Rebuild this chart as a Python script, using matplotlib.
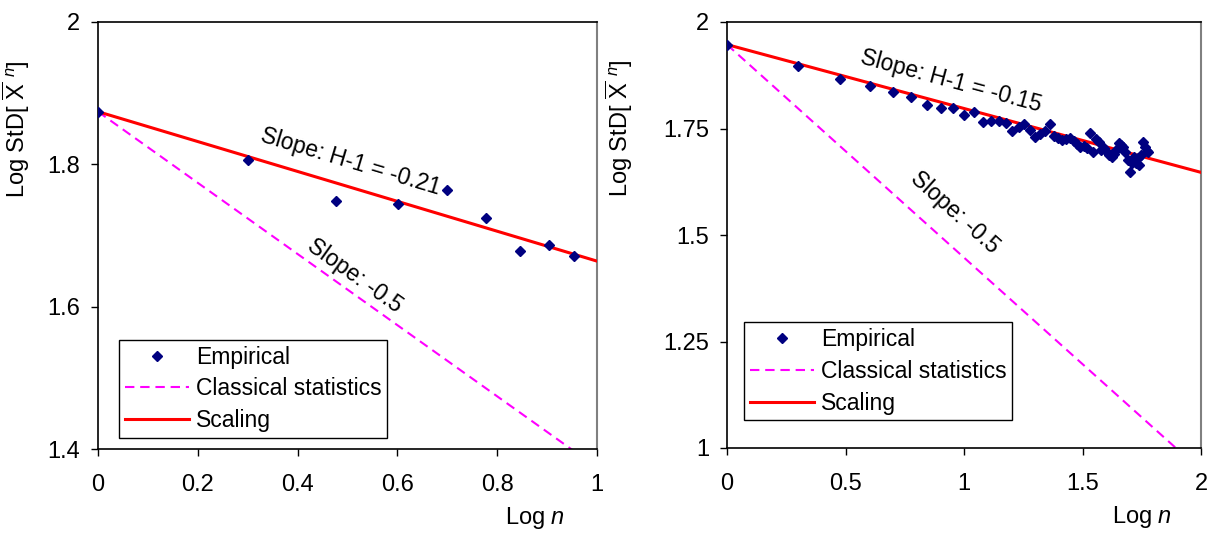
import numpy as np
import matplotlib
matplotlib.use("Agg")
import matplotlib.pyplot as plt
from matplotlib.ticker import FormatStrFormatter

plt.rcParams['font.family'] = ['Liberation Sans', 'DejaVu Sans']
plt.rcParams['mathtext.fontset'] = 'custom'
plt.rcParams['mathtext.rm'] = 'Liberation Sans'
plt.rcParams['mathtext.it'] = 'Liberation Sans:italic'
plt.rcParams['font.size'] = 17

# left panel: n = 1..9
n_left = np.arange(1, 10)
emp_left = [1.874, 1.806, 1.749, 1.744, 1.764, 1.724, 1.678, 1.687, 1.671]
slope_left = -0.21

# right panel: n = 1..60
n_right = np.arange(1, 61)
emp_right = [1.947, 1.897, 1.867, 1.849, 1.836, 1.824, 1.804, 1.797, 1.797, 1.782,
             1.788, 1.766, 1.768, 1.768, 1.763, 1.745, 1.754, 1.761, 1.747, 1.731,
             1.738, 1.745, 1.761, 1.733, 1.728, 1.723, 1.726, 1.728, 1.721, 1.714,
             1.707, 1.709, 1.705, 1.740, 1.695, 1.726, 1.719, 1.700, 1.705, 1.695,
             1.688, 1.684, 1.691, 1.700, 1.716, 1.712, 1.707, 1.695, 1.677, 1.648,
             1.669, 1.684, 1.669, 1.681, 1.665, 1.688, 1.719, 1.707, 1.698, 1.695]
slope_right = -0.15
slope_classic = -0.5

RED = '#FF0000'
MAG = '#FF00FF'
NAVY = '#000080'


def panel(ax, n, emp, slope, xlim, ylim, xticks, yticks,
          txt1, txt2, leg_box, ylab_x):
    x = np.log10(n)
    y0 = emp[0]
    xl = np.array([0.0, xlim[1]])
    ax.plot(x, emp, 'D', color=NAVY, ms=5.3, label='Empirical', zorder=4)
    ax.plot(xl, y0 + slope_classic * xl, color=MAG, lw=1.5, dashes=(4.5, 2.8),
            label='Classical statistics', zorder=2)
    ax.plot(xl, y0 + slope * xl, color=RED, lw=2.2, label='Scaling', zorder=3)

    ax.set_xlim(*xlim)
    ax.set_ylim(*ylim)
    ax.set_xticks(xticks)
    ax.set_yticks(yticks)
    ax.xaxis.set_major_formatter(FormatStrFormatter('%g'))
    ax.yaxis.set_major_formatter(FormatStrFormatter('%g'))
    ax.tick_params(direction='out', length=5, width=1, labelsize=17)
    ax.tick_params(axis='x', pad=13)
    ax.tick_params(axis='y', pad=8)
    for s in ['left', 'bottom', 'top']:
        ax.spines[s].set_color('black')
        ax.spines[s].set_linewidth(1.2)
    ax.spines['right'].set_color('#808080')
    ax.spines['right'].set_linewidth(1.5)

    ax.set_xlabel('Log $\\mathit{n}$', fontsize=17)
    ax.xaxis.set_label_coords(0.876, -0.132)
    ax.set_ylabel(r'Log StD[ $\overline{\mathrm{X}}\ ^{\mathit{n}}$]', fontsize=17)
    ax.yaxis.set_label_coords(ylab_x, 0.75)

    # annotate slopes, rotated to match the lines on screen
    fig = ax.figure
    fig.canvas.draw()
    def screen_angle(s):
        p = ax.transData.transform([[0, y0], [1, y0 + s]])
        d = p[1] - p[0]
        return np.degrees(np.arctan2(d[1], d[0]))
    ax.text(txt1[0], txt1[1], 'Slope: H-1 = %.2f' % slope, rotation=screen_angle(slope),
            ha='center', va='center', rotation_mode='anchor', fontsize=16.5)
    ax.text(txt2[0], txt2[1], 'Slope: -0.5', rotation=screen_angle(slope_classic),
            ha='center', va='center', rotation_mode='anchor', fontsize=16.5)

    leg = ax.legend(loc='lower left', bbox_to_anchor=leg_box, fancybox=False,
                    edgecolor='black', framealpha=1, handlelength=2.8,
                    handletextpad=0.3, labelspacing=0.38, borderpad=0.25,
                    borderaxespad=0, fontsize=16.5)
    leg.get_frame().set_linewidth(1.0)


fig = plt.figure(figsize=(12.11, 5.34), dpi=100)
ax1 = fig.add_axes([98 / 1211, 1 - 449 / 534, 499 / 1211, 427 / 534])
ax2 = fig.add_axes([727 / 1211, 1 - 448 / 534, 474 / 1211, 426 / 534])

panel(ax1, n_left, emp_left, slope_left, (0, 1), (1.4, 2),
      [0, 0.2, 0.4, 0.6, 0.8, 1], [1.4, 1.6, 1.8, 2],
      (0.507, 1.804), (0.515, 1.643), (0.042, 0.026), -0.132)
panel(ax2, n_right, emp_right, slope_right, (0, 2), (1, 2),
      [0, 0.5, 1, 1.5, 2], [1, 1.25, 1.5, 1.75, 2],
      (0.945, 1.860), (0.962, 1.552), (0.036, 0.065), -0.194)

fig.savefig('out.png', dpi=100)
